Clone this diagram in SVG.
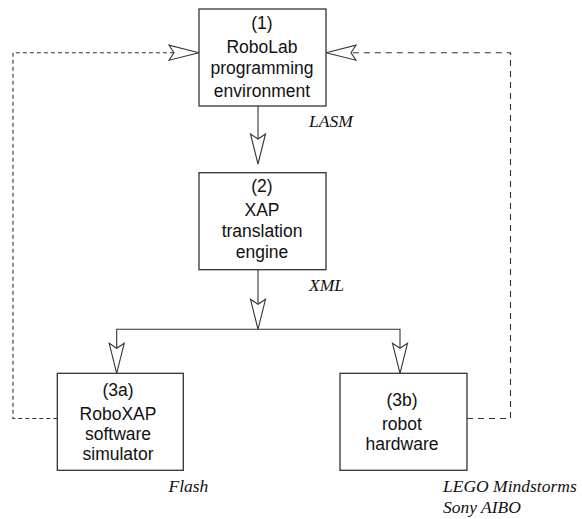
<svg xmlns="http://www.w3.org/2000/svg" xmlns:xlink="http://www.w3.org/1999/xlink" width="582" height="519" viewBox="0 0 582 519">
  <style>
    .box { fill: #ffffff; stroke: #333333; stroke-width: 1.3; }
    .label { font-family: "Liberation Sans", Arial, sans-serif; font-size: 17.5px; fill: #111111; text-anchor: middle; }
    .note { font-family: "Liberation Serif", "Times New Roman", serif; font-style: italic; font-size: 17.5px; fill: #111111; }
    .wire { fill: none; stroke: #333333; stroke-width: 1.1; }
    .dash-a { fill: none; stroke: #333333; stroke-width: 1.1; stroke-dasharray: 4 3; }
    .dash-b { fill: none; stroke: #333333; stroke-width: 1.1; stroke-dasharray: 6 5; }
    .head { fill: #ffffff; stroke: #333333; stroke-width: 1.1; stroke-linejoin: miter; }
  </style>
  <defs>
    <!-- open barbed arrowhead, tip at the origin, pointing along +x -->
    <path id="ah" class="head" d="M0 0 L-30 -7.5 L-25 0 L-30 7.5 Z"/>
  </defs>

  <g id="connectors">
    <!-- (1) to (2) -->
    <line class="wire" x1="258" y1="106" x2="258" y2="140"/>
    <use xlink:href="#ah" href="#ah" transform="translate(258,164) rotate(90)"/>
    <!-- (2) to branch -->
    <line class="wire" x1="258" y1="269.7" x2="258" y2="305"/>
    <use xlink:href="#ah" href="#ah" transform="translate(258,329.3) rotate(90)"/>
    <polyline class="wire" points="116.7,349 116.7,329.3 400,329.3 400,349"/>
    <use xlink:href="#ah" href="#ah" transform="translate(116.7,373.3) rotate(90)"/>
    <use xlink:href="#ah" href="#ah" transform="translate(400,373.3) rotate(90)"/>
    <!-- feedback from (3a) -->
    <path class="dash-a" d="M57.3 418.5 H13 V52.7 H174"/>
    <use xlink:href="#ah" href="#ah" transform="translate(199,52.7)"/>
    <!-- feedback from (3b) -->
    <path class="dash-b" d="M467 418.5 H510.5 V52.7 H351"/>
    <use xlink:href="#ah" href="#ah" transform="translate(326,52.7) rotate(180)"/>
  </g>

  <g id="node-1">
    <rect class="box" x="199" y="9" width="127" height="97"/>
    <text class="label" x="262" y="29">(1)</text>
    <text class="label" x="262" y="53">RoboLab</text>
    <text class="label" x="262" y="74">programming</text>
    <text class="label" x="262" y="97">environment</text>
  </g>

  <g id="node-2">
    <rect class="box" x="199" y="172.7" width="127" height="97"/>
    <text class="label" x="262" y="192">(2)</text>
    <text class="label" x="262" y="216">XAP</text>
    <text class="label" x="262" y="237">translation</text>
    <text class="label" x="262" y="258">engine</text>
  </g>

  <g id="node-3a">
    <rect class="box" x="57.3" y="373.3" width="126" height="97"/>
    <text class="label" x="118" y="396">(3a)</text>
    <text class="label" x="118" y="420">RoboXAP</text>
    <text class="label" x="118" y="440">software</text>
    <text class="label" x="118" y="460">simulator</text>
  </g>

  <g id="node-3b">
    <rect class="box" x="340" y="373.3" width="127" height="97"/>
    <text class="label" x="402" y="406">(3b)</text>
    <text class="label" x="402" y="430">robot</text>
    <text class="label" x="402" y="450">hardware</text>
  </g>

  <g id="notes">
    <text class="note" x="309" y="127">LASM</text>
    <text class="note" x="309" y="291">XML</text>
    <text class="note" x="168.5" y="491.5">Flash</text>
    <text class="note" x="443" y="491.5">LEGO Mindstorms</text>
    <text class="note" x="443" y="513">Sony AIBO</text>
  </g>
</svg>
